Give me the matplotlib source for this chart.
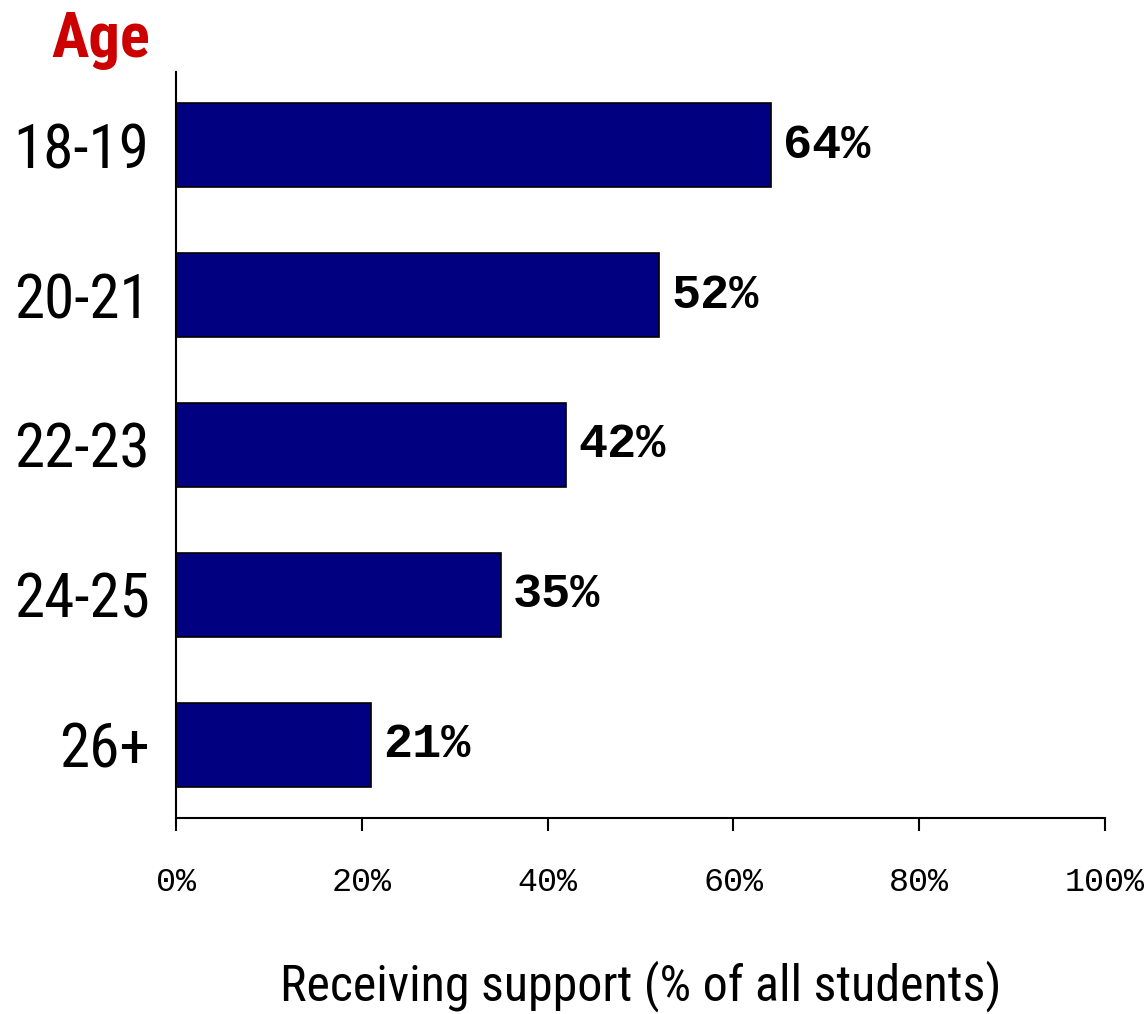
import matplotlib.pyplot as plt
from matplotlib.ticker import FuncFormatter

# 数据
ages = ['18-19', '20-21', '22-23', '24-25', '26+']
support = [64, 52, 42, 35, 21]
xticks = [0, 20, 40, 60, 80, 100]

narrow = ['Roboto Condensed', 'Liberation Sans Narrow', 'Roboto', 'DejaVu Sans']
mono = ['Liberation Mono', 'DejaVu Sans Mono']

fig = plt.figure(figsize=(11.47, 10.14), dpi=100)
ax = fig.add_axes([0.1534, 0.1933, 0.81, 0.7357])

pos = list(range(len(ages)))
ax.barh(pos, support, height=0.56, color='#000080', edgecolor='black', linewidth=1.2)

# 柱子右侧的百分比标签
for y, v in zip(pos, support):
    ax.text(v + 1.3, y, '%d%%' % v, va='center', ha='left',
            family=mono, fontweight='bold', fontsize=35)

ax.set_xlim(0, 100)
ax.set_ylim(4.49, -0.49)
ax.set_xticks(xticks)
ax.xaxis.set_major_formatter(FuncFormatter(lambda x, p: '%d%%' % x))
for lab in ax.get_xticklabels():
    lab.set_family(mono)
    lab.set_fontsize(24)
ax.tick_params(axis='x', direction='out', length=9, width=1.5, pad=26)

ax.set_yticks(pos)
ax.set_yticklabels(ages, family=narrow, fontsize=44)
ax.tick_params(axis='y', length=0, pad=19)

ax.spines['top'].set_visible(False)
ax.spines['right'].set_visible(False)
ax.spines['left'].set_linewidth(1.5)
ax.spines['bottom'].set_linewidth(1.5)

ax.set_xlabel('Receiving support (% of all students)', family=narrow, fontsize=36, labelpad=45)

fig.text(0.131, 0.944, 'Age', ha='right', va='baseline', color='#CC0000',
         family=narrow, fontweight='bold', fontsize=45)

fig.savefig('out.png', dpi=100)
